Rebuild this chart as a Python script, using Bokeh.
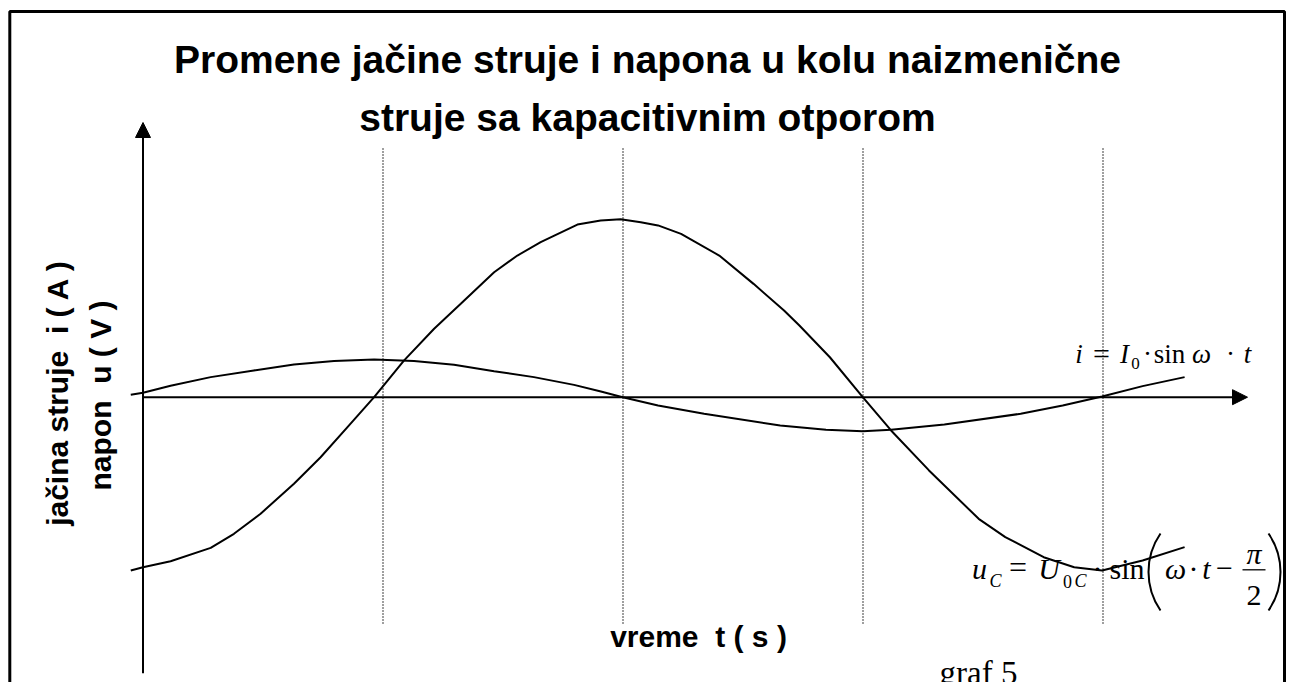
import numpy as np
from bokeh.plotting import figure
from bokeh.models import Range1d, Label, Arrow, NormalHead, BoxAnnotation
from bokeh.embed import file_html
from bokeh.resources import INLINE

# ---------------- data ----------------
# time in quarter periods (T/4), values normalised to U0 = 1
t_u = [-0.051, 0.0, 0.115, 0.282, 0.379, 0.490, 0.629, 0.740, 0.852, 0.963,
       1.088, 1.213, 1.324, 1.463, 1.560, 1.657, 1.810, 1.907, 1.990, 2.074,
       2.146, 2.242, 2.401, 2.544, 2.671, 2.735, 2.862, 2.999, 3.117, 3.275,
       3.482, 3.593, 3.753, 3.880, 3.996, 4.165, 4.340]
u_vals = [-0.985, -0.966, -0.932, -0.856, -0.776, -0.662, -0.492, -0.341, -0.170, 0.0,
          0.209, 0.389, 0.531, 0.710, 0.805, 0.881, 0.981, 1.004, 1.011, 0.994,
          0.976, 0.928, 0.805, 0.644, 0.493, 0.407, 0.227, 0.0, -0.189, -0.416,
          -0.691, -0.795, -0.909, -0.966, -0.985, -0.928, -0.852]

t_i = [-0.051, 0.0, 0.115, 0.282, 0.462, 0.629, 0.796, 0.963, 1.129, 1.296,
       1.463, 1.629, 1.796, 1.908, 1.999, 2.146, 2.338, 2.655, 2.846, 2.999,
       3.117, 3.339, 3.657, 3.832, 3.996, 4.165, 4.340]
i_vals = [0.014, 0.025, 0.065, 0.114, 0.152, 0.186, 0.205, 0.214, 0.205, 0.184,
          0.148, 0.114, 0.070, 0.032, 0.0, -0.047, -0.094, -0.161, -0.185, -0.193,
          -0.185, -0.155, -0.094, -0.047, 0.004, 0.063, 0.114]

quarter_marks = [1, 2, 3, 4]

NB = "\u00a0"
title_lines = ["Promene jačine struje i napona u kolu naizmenične",
               "struje sa kapacitivnim otporom"]
y_label_lines = ["jačina struje" + NB + NB + "i ( A )", "napon" + NB + NB + "u ( V )"]
x_label = "vreme" + NB + NB + "t ( s )"
caption = "graf 5"

# ---------------- geometry ----------------
W, H = 1289, 682
OX, OY = 142.5, 396.7      # page pixel position of the origin
PX_T, PX_V = 240.0, 176.0  # pixels per unit
K = 0.345                  # baseline correction (fraction of font size)


def X(px):
    return (px - OX) / PX_T


def Y(py):
    return (OY - py) / PX_V


p = figure(width=W, height=H, output_backend="svg", toolbar_location=None,
           x_range=Range1d(X(0), X(W)), y_range=Range1d(Y(H), Y(0)),
           x_axis_location=None, y_axis_location=None, min_border=0,
           outline_line_color=None, background_fill_color="white",
           border_fill_color="white")
p.grid.visible = False

SANS = "Liberation Sans"
SERIF = "Liberation Serif"


def label(txt, x, base, size, font=SERIF, style="normal", align="center", rotated=False):
    if rotated:
        lx, ly, ang = x - K * size, base, np.pi / 2
    else:
        lx, ly, ang = x, base - K * size, 0.0
    p.add_layout(Label(x=X(lx), y=Y(ly), text=txt, angle=ang, angle_units="rad",
                       text_align=align, text_baseline="alphabetic",
                       text_font=font, text_font_style=style,
                       text_font_size=f"{size}px", text_color="black"))


# frame
p.add_layout(BoxAnnotation(left=X(9.3), right=X(1284), top=Y(11), bottom=Y(720),
                           fill_color=None, fill_alpha=0, line_color="black",
                           line_alpha=1.0, line_width=3))

# dotted quarter-period markers
p.segment(x0=quarter_marks, y0=[Y(148)] * len(quarter_marks),
          x1=quarter_marks, y1=[Y(623)] * len(quarter_marks),
          line_color="black", line_width=1.5, line_dash="1 2")

# axes as arrows
p.add_layout(Arrow(end=NormalHead(size=15, fill_color="black", line_color="black"),
                   x_start=0, y_start=Y(672.7), x_end=0, y_end=Y(122),
                   line_color="black", line_width=2))
p.add_layout(Arrow(end=NormalHead(size=15, fill_color="black", line_color="black"),
                   x_start=0, y_start=0, x_end=X(1247), y_end=0,
                   line_color="black", line_width=2))

# curves
p.line(t_u, u_vals, line_color="black", line_width=2)
p.line(t_i, i_vals, line_color="black", line_width=2)

# title
for txt, by in zip(title_lines, [72, 130]):
    label(txt, 647, by, 39, font=SANS, style="bold")

# y label (rotated)
for txt, bx, cy in zip(y_label_lines, [67, 110], [392, 395]):
    label(txt, bx, cy, 30, font=SANS, style="bold", rotated=True)

# x label
label(x_label, 698, 646, 30, font=SANS, style="bold")

# caption (cut off at the bottom)
label(caption, 939, 684, 33, align="left")

# formula pieces: (text, centre x, baseline y, size, style)
i_formula = [("i", 1078.5, 363, 27, "italic"), ("=", 1101, 363, 30, "normal"),
             ("I", 1124, 363, 27, "italic"), ("0", 1135, 369, 17, "normal"),
             ("·", 1147, 363, 27, "normal"), ("sin", 1169, 363, 27, "normal"),
             ("ω", 1201, 363, 27, "italic"), ("·", 1230, 363, 27, "normal"),
             ("t", 1247, 363, 27, "italic")]
u_formula = [("u", 979, 578, 30, "italic"), ("C", 995, 587, 18, "italic"),
             ("=", 1017.5, 578, 32, "normal"), ("U", 1048.5, 578, 30, "italic"),
             ("0", 1067, 587, 18, "normal"), ("C", 1080, 587, 18, "italic"),
             ("·", 1097, 578, 30, "normal"),
             ("sin", 1126.5, 578, 30, "normal"),
             ("ω", 1175, 578, 30, "italic"), ("·", 1193, 578, 30, "normal"),
             ("t", 1206, 578, 30, "italic"), ("−", 1224, 578, 30, "normal"),
             ("π", 1253.5, 563, 30, "italic"), ("2", 1253.5, 605, 30, "normal")]
for txt, cx, by, sz, st in i_formula + u_formula:
    label(txt, cx, by, sz, style=st)

# fraction bar
p.segment(x0=[X(1242)], y0=[Y(569.3)], x1=[X(1265)], y1=[Y(569.3)],
          line_color="black", line_width=1.3)

# tall parentheses of the formula, drawn as thin arcs
R_PAREN = 67.8
HALF = np.degrees(np.arcsin(38.5 / R_PAREN))
p.arc(x=[X(1148 + R_PAREN)], y=[Y(571.5)], radius=R_PAREN, radius_units="screen",
      start_angle=np.radians(180 - HALF), end_angle=np.radians(180 + HALF),
      direction="anticlock", line_color="black", line_width=2)
p.arc(x=[X(1280 - R_PAREN)], y=[Y(571.5)], radius=R_PAREN, radius_units="screen",
      start_angle=np.radians(-HALF), end_angle=np.radians(HALF),
      direction="anticlock", line_color="black", line_width=2)

open("out.html", "w").write(file_html(p, INLINE))
